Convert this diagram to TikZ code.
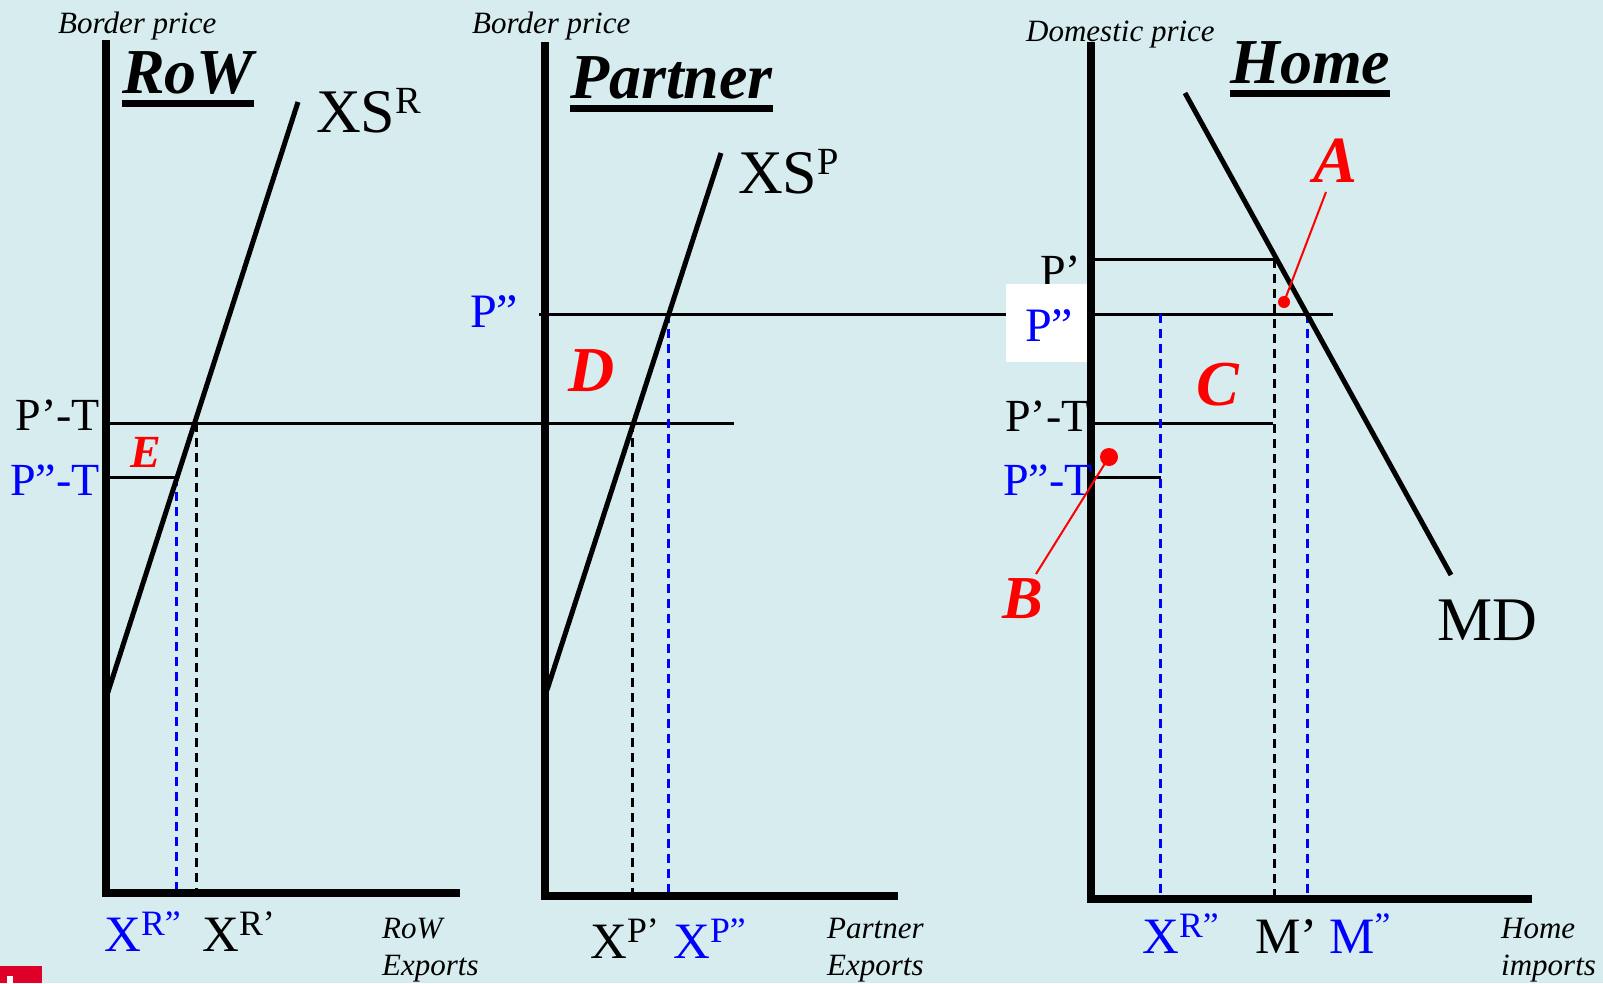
\documentclass[tikz,border=0pt]{standalone}
\usepackage{fontspec}
\setmainfont{Liberation Serif}
\usepackage{graphicx}
\definecolor{bg}{RGB}{214,236,239}
\definecolor{myblue}{RGB}{0,0,255}
\definecolor{myred}{RGB}{255,0,0}
\definecolor{logored}{RGB}{222,0,40}
\newcommand\upx[2][0.62]{\raisebox{0.3em}{\scalebox{#1}{#2}}}
\begin{document}
\begin{tikzpicture}[x=1pt,y=-1pt,
  axisline/.style={line width=8.5pt, line join=miter},
  curve/.style={line width=5pt},
  thinline/.style={line width=3pt},
  dsh/.style={line width=3pt, dash pattern=on 9pt off 6pt},
  leader/.style={myred, line width=2pt},
  lbl/.style={inner sep=0pt, anchor=base west},
  lble/.style={inner sep=0pt, anchor=base east},
  itfont/.style={font=\fontsize{31}{36}\selectfont\itshape},
  titlefont/.style={font=\fontsize{64}{70}\selectfont\bfseries\itshape},
  bigfont/.style={font=\fontsize{62}{70}\selectfont},
  midfont/.style={font=\fontsize{46}{52}\selectfont},
  botfont/.style={font=\fontsize{51}{58}\selectfont},
  redbig/.style={font=\fontsize{64}{70}\selectfont\bfseries\itshape, text=myred},
  redsmall/.style={font=\fontsize{46}{52}\selectfont\bfseries\itshape, text=myred},
  uline/.style={fill=black}
]
\useasboundingbox (0,0) rectangle (1603,983);
\fill[bg] (0,0) rectangle (1603,983);
% logo remnant
\fill[logored] (0,966) rectangle (42,983);
\fill[white] (7,976) rectangle (13,983);

% ---------- thin price lines ----------
\draw[thinline] (102,423) -- (734,423);
\draw[thinline] (102,477) -- (176,477);
\draw[thinline] (539,314) -- (1333,314);
\draw[thinline] (1093,259) -- (1274,259);
\draw[thinline] (1093,423) -- (1273,423);
\draw[thinline] (1093,477) -- (1161,477);

% ---------- dashed verticals ----------
\draw[dsh, myblue] (176,477) -- (176,893);
\draw[dsh] (196,423) -- (196,893);
\draw[dsh] (632,423) -- (632,896);
\draw[dsh, myblue] (668,314) -- (668,896);
\draw[dsh, myblue] (1160,314) -- (1160,899);
\draw[dsh] (1274,259) -- (1274,899);
\draw[dsh, myblue] (1307,314) -- (1307,899);

% ---------- curves ----------
\draw[curve] (298,102) -- (107,695);
\draw[curve] (721,153) -- (547,690);
\draw[curve] (1185,93) -- (1451,575);

% ---------- Home P' label and white box ----------
\node[lbl, midfont] (hp) at (1040,286) {P’};
\fill[white] (1006,284) rectangle (1093,362);
\node[lbl, midfont, text=myblue, font=\fontsize{48}{54}\selectfont] (hpp) at (1025,341) {P”};

% ---------- axes ----------
\draw[axisline] (106,40) -- (106,893) -- (460,893);
\draw[axisline] (545,42) -- (545,896) -- (898,896);
\draw[axisline] (1091,42) -- (1091,899) -- (1532,899);

% ---------- RoW panel ----------
\node[lbl, itfont] (bpR) at (58,33) {Border price};
\node[lbl, titlefont] (tR) at (122,93) {RoW};
\fill[uline] ([yshift=-7pt]tR.base west) rectangle ([yshift=-14pt]tR.base east);
\node[lbl, bigfont] (xsR) at (316,132) {XS\upx{R}};
\node[lble, midfont] (pTR) at (100,430) {P’-T};
\node[lble, midfont, text=myblue] (ppTR) at (100,495) {P”-T};
\node[lbl, redsmall] (E) at (130,467) {E};
\node[lbl, botfont, text=myblue] (xRpp) at (104,951) {X\upx[0.7]{R”}};
\node[lbl, botfont] (xRp) at (202,951) {X\upx[0.7]{R’}};
\node[lbl, itfont] (rx1) at (382,938) {RoW};
\node[lbl, itfont] (rx2) at (382,975) {Exports};

% ---------- Partner panel ----------
\node[lbl, itfont] (bpP) at (472,33) {Border price};
\node[lbl, titlefont] (tP) at (570,98) {Partner};
\fill[uline] ([yshift=-6.5pt]tP.base west) rectangle ([yshift=-13.5pt]tP.base east);
\node[lbl, bigfont] (xsP) at (738,193) {XS\upx{P}};
\node[lbl, midfont, text=myblue, font=\fontsize{48}{54}\selectfont] (ppP) at (470,327) {P”};
\node[lbl, redbig] (D) at (568,391) {D};
\node[lbl, botfont] (xPp) at (590,958) {X\upx[0.7]{P’}};
\node[lbl, botfont, text=myblue] (xPpp) at (673,958) {X\upx[0.7]{P”}};
\node[lbl, itfont] (px1) at (827,938) {Partner};
\node[lbl, itfont] (px2) at (827,975) {Exports};

% ---------- Home panel ----------
\node[lbl, itfont] (dpH) at (1026,41) {Domestic price};
\node[lbl, titlefont] (tH) at (1230,83) {Home};
\fill[uline] ([yshift=-6.5pt]tH.base west) rectangle ([yshift=-13.5pt]tH.base east);
\node[lbl, midfont] (pTH) at (1005,431) {P’-T};
\node[lbl, midfont, text=myblue] (ppTH) at (1003,495) {P”-T};
\node[lbl, redbig] (C) at (1196,405) {C};
\node[lbl, redbig, font=\fontsize{66}{72}\selectfont\bfseries\itshape] (A) at (1313,182) {A};
\node[lbl, redbig, font=\fontsize{61}{68}\selectfont\bfseries\itshape] (B) at (1002,618) {B};
\node[lbl, bigfont] (MD) at (1437,640) {MD};
\node[lbl, botfont, text=myblue] (xRppH) at (1142,953) {X\upx[0.7]{R”}};
\node[lbl, botfont] (Mp) at (1255,953) {M’};
\node[lbl, botfont, text=myblue] (Mpp) at (1329,953) {M\upx[0.7]{”}};
\node[lbl, itfont] (hx1) at (1501,938) {Home};
\node[lbl, itfont] (hx2) at (1501,975) {imports};

% ---------- leaders ----------
\coordinate (Aend) at (1326,192);
\coordinate (Adot) at (1284,302);
\draw[leader] (Aend) -- (Adot);
\fill[myred] (Adot) circle (6pt);
\coordinate (Bend) at (1036,574);
\coordinate (Bdot) at (1109,457);
\draw[leader] (Bend) -- (Bdot);
\fill[myred] (Bdot) circle (9pt);
\end{tikzpicture}
\end{document}
